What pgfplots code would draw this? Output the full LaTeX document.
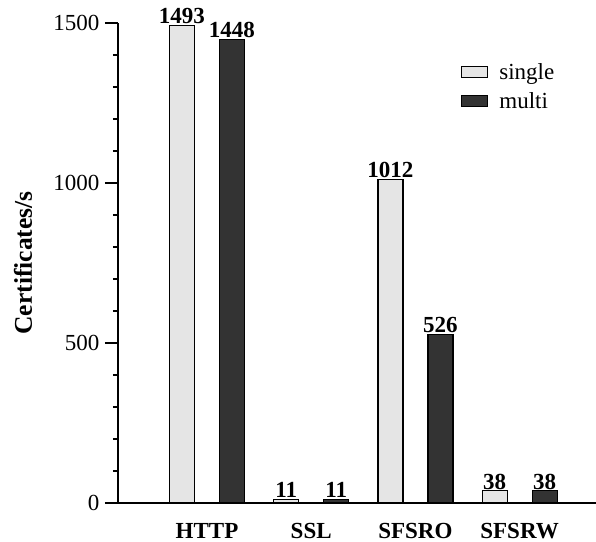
\documentclass[border=0pt]{standalone}
\usepackage{pgfplots}
\pgfplotsset{compat=1.18}
\usepackage{fontspec}
\setmainfont{Liberation Serif}
\newcommand{\bigf}{\fontsize{23}{27}\selectfont}
\begin{document}
\begin{tikzpicture}
\begin{axis}[
  scale only axis, width=478pt, height=480pt,
  xmin=-0.854, xmax=3.733, ymin=0, ymax=1500,
  axis x line=bottom, axis y line=left,
  axis line style={-, line width=1.3pt},
  ybar, bar width=25pt,
  xtick={0,1,2,3}, xticklabels={HTTP,SSL,SFSRO,SFSRW},
  xtick style={draw=none},
  ytick={0,500,1000,1500}, minor y tick num=4,
  tick align=outside, major tick length=13pt, minor tick length=5pt,
  ytick style={line width=1.2pt, black},
  /pgf/number format/assume math mode=true,
  /pgf/number format/1000 sep={},
  xticklabel style={font=\bigf\bfseries, anchor=base, yshift=-22pt},
  yticklabel style={font=\bigf, xshift=-2pt},
  ylabel={Certificates/s},
  every axis y label/.style={at={([xshift=-95pt]axis description cs:0,0.5)}, anchor=center, rotate=90, font=\fontsize{25.5}{29}\selectfont\bfseries},
  nodes near coords,
  every node near coord/.append style={font=\bigf\bfseries, text=black, inner sep=1pt, anchor=south},
  legend style={draw=none, fill=none, font=\bigf, at={(rel axis cs:0,1)}, anchor=north west, xshift=343pt, yshift=-40pt, inner sep=0pt, row sep=12pt, column sep=11pt, nodes={inner sep=0pt}},
  legend cell align=left,
  legend image code/.code={\draw[#1, line width=1.2pt] (0pt,-5.5pt) rectangle (26pt,5.5pt);},
]
\addplot[fill=black!10, draw=black, line width=1.2pt, bar shift=-25pt] coordinates {(0,1493) (1,11) (2,1012) (3,38)};
\addlegendentry{single}
\addplot[fill=black!80, draw=black, line width=1.2pt, bar shift=25pt] coordinates {(0,1448) (1,11) (2,526) (3,38)};
\addlegendentry{multi}
\end{axis}
\pgfresetboundingbox
\path ([shift={(-118pt,-39pt)}]current axis.south west) rectangle ([shift={(0pt,23pt)}]current axis.north east);
\end{tikzpicture}
\end{document}
